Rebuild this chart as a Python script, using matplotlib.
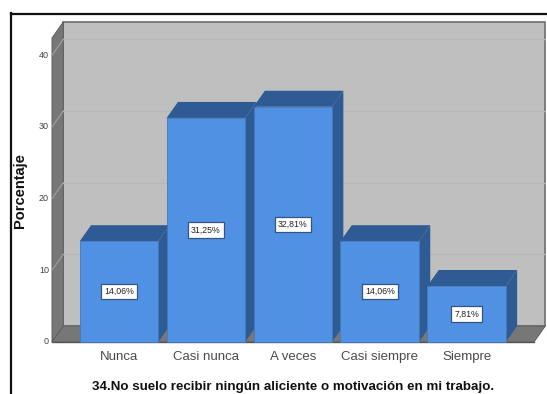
import matplotlib
matplotlib.use("Agg")
import matplotlib.pyplot as plt
from matplotlib.patches import Polygon, Rectangle

categories = ["Nunca", "Casi nunca", "A veces", "Casi siempre", "Siempre"]
values = [14.06, 31.25, 32.81, 14.06, 7.81]
value_labels = ["14,06%", "31,25%", "32,81%", "14,06%", "7,81%"]
y_ticks = [0, 10, 20, 30, 40]
x_title = "34.No suelo recibir ningún aliciente o motivación en mi trabajo."
y_title = "Porcentaje"

W, H = 547, 394
plt.rcParams["font.family"] = ["Liberation Sans", "DejaVu Sans"]
fig = plt.figure(figsize=(W / 100, H / 100), dpi=100, facecolor="white")

# Front plane of the 3D box, in pixels
L, R, T, B = 52, 534, 38, 342
ax = fig.add_axes([L / W, 1 - B / H, (R - L) / W, (B - T) / H])
spacing = 86.9
c0 = 119
ax.set_xlim((L - c0) / spacing, (R - c0) / spacing)
ax.set_ylim(0, (B - T) / 7.17)
ax.axis("off")
x0, x1 = ax.get_xlim()
y0, y1 = ax.get_ylim()
dx = 11.3 / spacing          # depth offset in x units
dy = 16 / 7.17               # depth offset in y units
bw = 78.5 / spacing


def poly(pts, fc, ec="none", lw=0, z=1):
    ax.add_patch(Polygon(pts, closed=True, facecolor=fc, edgecolor=ec,
                         linewidth=lw, zorder=z, clip_on=False))


# Walls and floor
poly([(x0 + dx, y0 + dy), (x1 + dx, y0 + dy), (x1 + dx, y1 + dy), (x0 + dx, y1 + dy)],
     "#BFBFBF", "#6E6E6E", 1.2, 1)
poly([(x0, y0), (x0 + dx, y0 + dy), (x0 + dx, y1 + dy), (x0, y1)], "#777777", "#5F5F5F", 0.7, 2)
poly([(x0, y0), (x1, y0), (x1 + dx, y0 + dy), (x0 + dx, y0 + dy)], "#777777", "#5F5F5F", 0.7, 2)

# Gridlines on back and side walls
for t in y_ticks[1:]:
    ax.plot([x0 + dx, x1 + dx], [t + dy, t + dy], color="#B6B6B6", lw=1.0, zorder=3, clip_on=False)
    ax.plot([x0, x0 + dx], [t, t + dy], color="#A5A5A5", lw=0.7, zorder=3, clip_on=False)
for t in y_ticks:
    ax.text(x0 - 3 / spacing, t, str(t), ha="right", va="center", fontsize=6.5, color="#444444")
ax.plot([x0, x1], [0, 0], color="#555555", lw=1.0, zorder=4, clip_on=False)

# Bars
FACE, DARK = "#5191E3", "#2F5B94"
for i, (cat, v, lab) in enumerate(zip(categories, values, value_labels)):
    a, b = i - bw / 2, i + bw / 2
    z = 5 + i
    poly([(a, v), (b, v), (b + dx, v + dy), (a + dx, v + dy)], DARK, z=z)
    poly([(b, 0), (b + dx, dy), (b + dx, v + dy), (b, v)], DARK, z=z)
    ax.add_patch(Rectangle((a, 0), bw, v, facecolor=FACE, edgecolor="#4479BE", linewidth=0.6,
                           zorder=z + 0.1, clip_on=False))
    ax.text(i, v / 2, lab, ha="center", va="center", fontsize=6.3, color="#222222", zorder=z + 0.2,
            bbox=dict(boxstyle="square,pad=0.35", facecolor="white", edgecolor="#34557F", linewidth=0.9))
    ax.text(i, -15 / 7.17, cat, ha="center", va="center", fontsize=9.5, color="#4A4A4A")

fig.text(293 / W, 1 - 387 / H, x_title, ha="center", va="center", fontsize=9.6,
         fontweight="bold", color="#111111")
fig.text(20.5 / W, 1 - 190.5 / H, y_title, ha="center", va="center", rotation=90,
         fontsize=10.5, fontweight="bold", color="#111111")

# Outer frame (open at right and bottom)
fig.add_artist(plt.Line2D([11 / W, 11 / W], [0, 1 - 13 / H], color="#111111", lw=1.6))
fig.add_artist(plt.Line2D([11 / W, 1], [1 - 13.5 / H, 1 - 13.5 / H], color="#111111", lw=1.6))

fig.savefig("out.png", dpi=100)
